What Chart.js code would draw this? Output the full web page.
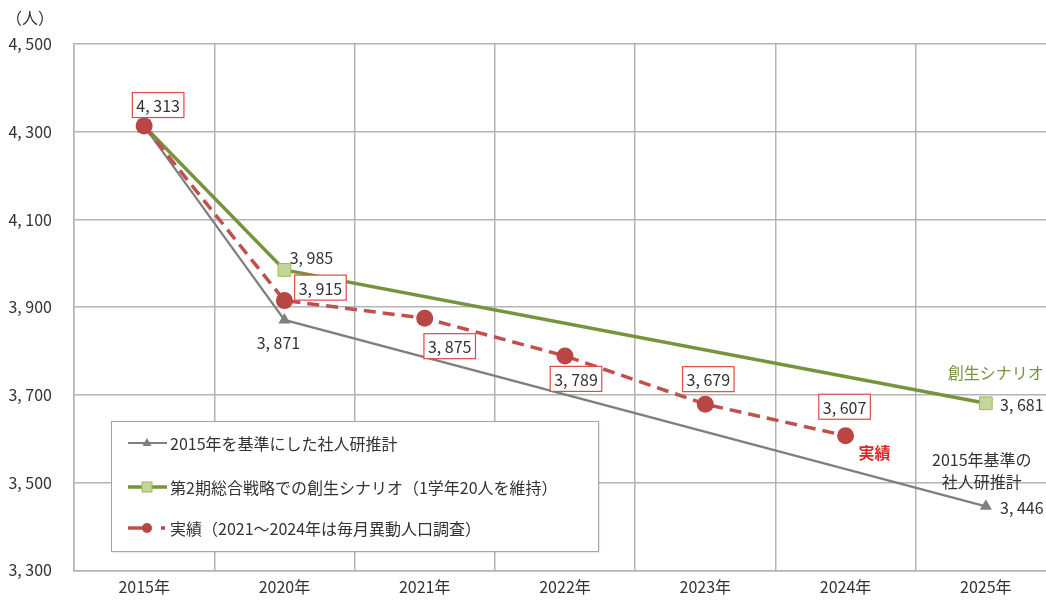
<!DOCTYPE html>
<html lang="ja">
<head>
<meta charset="UTF-8">
<title>児童数の推移</title>
<style>
    body {
        margin: 0;
        background: #fff;
        overflow: hidden;
    }
    .wrap {
        width: 1066px;
        height: 602px;
    }
    #popChart {
        width: 1066px;
        height: 602px;
    }
</style>
<script src="https://cdn.jsdelivr.net/npm/chart.js"></script>
</head>
<body>
<div class="wrap">
    <canvas id="popChart" width="1066" height="602"></canvas>
</div>
<script>
    // 年次
    const years = ['2015年', '2020年', '2021年', '2022年', '2023年', '2024年', '2025年'];
    // 2015年を基準にした社人研推計
    const ipssValues = [4313, 3871, null, null, null, null, 3446];
    // 第2期総合戦略での創生シナリオ
    const scenarioValues = [4313, 3985, null, null, null, null, 3681];
    // 実績
    const actualValues = [4313, 3915, 3875, 3789, 3679, 3607, null];
    // 縦軸
    const yMin = 3300;
    const yMax = 4500;
    const yStep = 200;

    const legendLabels = [
        '2015年を基準にした社人研推計',
        '第2期総合戦略での創生シナリオ（1学年20人を維持）',
        '実績（2021～2024年は毎月異動人口調査）'
    ];

    const FONT = '"Noto Sans CJK JP", "Noto Sans", sans-serif';
    const TEXT = '#333333';
    const GRAY = '#7f7f7f';
    const GREEN = '#77933c';
    const GREEN_FILL = '#c3d69b';
    const RED = '#c0504d';
    const RED_DOT = '#b94643';
    const BOX_RED = '#e04a4a';
    const GRID = '#b4b4b4';

    // 4,313 -> "4, 313"
    function fmt(v) {
        return v.toLocaleString('en-US').replace(',', ', ');
    }

    // ラベル位置（点からのずれ）
    const labelPlace = {
        0: [[14, -21], [36, -13], [25, 28], [11, 23], [3, -25], [-1, -29]],
        1: [null, [27, -13], null, null, null, null, [36, 1]],
        2: [null, [-6, 22], null, null, null, null, [36, 1]]
    };
    const boxed = { 0: true, 1: false, 2: false };

    const labelPlugin = {
        id: 'valueLabels',
        afterDatasetsDraw(chart) {
            const ctx = chart.ctx;
            ctx.save();
            ctx.font = '16px ' + FONT;
            ctx.textAlign = 'center';
            ctx.textBaseline = 'middle';
            chart.data.datasets.forEach((ds, di) => {
                const meta = chart.getDatasetMeta(di);
                ds.data.forEach((v, i) => {
                    const off = labelPlace[di][i];
                    if (v === null || !off) return;
                    const pt = meta.data[i];
                    const cx = pt.x + off[0];
                    const cy = pt.y + off[1];
                    const txt = fmt(v);
                    if (boxed[di]) {
                        const w = ctx.measureText(txt).width + 8;
                        const h = 25;
                        ctx.fillStyle = '#fff';
                        ctx.fillRect(cx - w / 2, cy - h / 2, w, h);
                        ctx.strokeStyle = BOX_RED;
                        ctx.lineWidth = 1.2;
                        ctx.strokeRect(cx - w / 2, cy - h / 2, w, h);
                    }
                    ctx.fillStyle = TEXT;
                    ctx.fillText(txt, cx, cy + 1);
                });
            });

            // 系列名の注記
            const last = chart.getDatasetMeta(1).data[6];
            const lastIpss = chart.getDatasetMeta(2).data[6];
            const lastActual = chart.getDatasetMeta(0).data[5];
            ctx.textAlign = 'left';
            ctx.fillStyle = GREEN;
            ctx.fillText('創生シナリオ', last.x - 38, last.y - 30);
            ctx.fillStyle = '#e02424';
            ctx.font = 'bold 16px ' + FONT;
            ctx.fillText('実績', lastActual.x + 13, lastActual.y + 17);
            ctx.font = '16px ' + FONT;
            ctx.fillStyle = TEXT;
            ctx.textAlign = 'center';
            ctx.fillText('2015年基準の', lastIpss.x - 4, lastIpss.y - 46);
            ctx.fillText('社人研推計', lastIpss.x - 4, lastIpss.y - 24);

            // 単位
            ctx.fillText('（人）', 30, 18);
            ctx.restore();
        }
    };

    const legendPlugin = {
        id: 'boxLegend',
        afterDraw(chart) {
            const ctx = chart.ctx;
            const x0 = 111, y0 = 421, w = 487, h = 130;
            ctx.save();
            ctx.shadowColor = 'rgba(0,0,0,0.25)';
            ctx.shadowOffsetX = 1;
            ctx.shadowOffsetY = 1;
            ctx.shadowBlur = 2;
            ctx.fillStyle = '#fff';
            ctx.fillRect(x0, y0, w, h);
            ctx.shadowColor = 'transparent';
            ctx.strokeStyle = '#a6a6a6';
            ctx.lineWidth = 1;
            ctx.strokeRect(x0 + 0.5, y0 + 0.5, w, h);

            const rows = [y0 + 22, y0 + 66, y0 + 107];
            const sx = 128, ex = 167, mx = 147;

            // 社人研推計
            ctx.strokeStyle = GRAY;
            ctx.lineWidth = 2;
            ctx.beginPath();
            ctx.moveTo(sx, rows[0]);
            ctx.lineTo(ex, rows[0]);
            ctx.stroke();
            ctx.fillStyle = GRAY;
            ctx.beginPath();
            ctx.moveTo(mx, rows[0] - 5);
            ctx.lineTo(mx + 4.5, rows[0] + 3);
            ctx.lineTo(mx - 4.5, rows[0] + 3);
            ctx.closePath();
            ctx.fill();

            // 創生シナリオ
            ctx.strokeStyle = GREEN;
            ctx.lineWidth = 3.5;
            ctx.beginPath();
            ctx.moveTo(sx, rows[1]);
            ctx.lineTo(ex, rows[1]);
            ctx.stroke();
            ctx.fillStyle = GREEN_FILL;
            ctx.fillRect(mx - 5, rows[1] - 5, 10, 10);
            ctx.strokeStyle = '#9bbb59';
            ctx.lineWidth = 1;
            ctx.strokeRect(mx - 5, rows[1] - 5, 10, 10);

            // 実績
            ctx.strokeStyle = RED;
            ctx.lineWidth = 3.5;
            ctx.beginPath();
            ctx.moveTo(sx, rows[2]);
            ctx.lineTo(mx, rows[2]);
            ctx.stroke();
            ctx.fillStyle = RED_DOT;
            ctx.beginPath();
            ctx.arc(mx, rows[2], 5, 0, Math.PI * 2);
            ctx.fill();
            ctx.fillRect(161, rows[2] - 1.75, 4, 3.5);

            ctx.fillStyle = TEXT;
            ctx.font = '16px ' + FONT;
            ctx.textAlign = 'left';
            ctx.textBaseline = 'middle';
            legendLabels.forEach((t, i) => ctx.fillText(t, 170, rows[i] + 1));
            ctx.restore();
        }
    };

    new Chart(document.getElementById('popChart'), {
        type: 'line',
        data: {
            labels: years,
            datasets: [
                {
                    label: legendLabels[2],
                    data: actualValues,
                    borderColor: RED,
                    borderWidth: 3.5,
                    borderDash: [12, 7],
                    pointStyle: 'circle',
                    pointRadius: 8.5,
                    pointBackgroundColor: RED_DOT,
                    pointBorderColor: RED_DOT,
                    pointBorderWidth: 0,
                    tension: 0
                },
                {
                    label: legendLabels[1],
                    data: scenarioValues,
                    spanGaps: true,
                    borderColor: GREEN,
                    borderWidth: 3.5,
                    pointStyle: 'rect',
                    pointRadius: 9,
                    pointBackgroundColor: GREEN_FILL,
                    pointBorderColor: '#9bbb59',
                    pointBorderWidth: 1,
                    tension: 0
                },
                {
                    label: legendLabels[0],
                    data: ipssValues,
                    spanGaps: true,
                    borderColor: GRAY,
                    borderWidth: 2.2,
                    pointStyle: 'triangle',
                    pointRadius: 7,
                    pointBackgroundColor: GRAY,
                    pointBorderColor: GRAY,
                    pointBorderWidth: 0,
                    tension: 0
                }
            ]
        },
        options: {
            responsive: false,
            animation: false,
            layout: { padding: { top: 44, left: 0, right: 0, bottom: 0 } },
            plugins: {
                legend: { display: false },
                tooltip: { enabled: false }
            },
            scales: {
                x: {
                    offset: true,
                    grid: { offset: true, color: GRID, lineWidth: 1.5, drawTicks: false },
                    border: { color: GRID, width: 1.5 },
                    ticks: { color: TEXT, font: { family: FONT, size: 16 }, padding: 7, maxRotation: 0 },
                    afterFit(scale) { scale.height = 29; }
                },
                y: {
                    min: yMin,
                    max: yMax,
                    grid: { color: GRID, lineWidth: 1.5, drawTicks: false },
                    border: { color: GRID, width: 1.5 },
                    ticks: {
                        stepSize: yStep,
                        color: TEXT,
                        font: { family: FONT, size: 16 },
                        padding: 22,
                        callback: v => fmt(v)
                    },
                    afterFit(scale) { scale.width = 74; }
                }
            }
        },
        plugins: [labelPlugin, legendPlugin]
    });
</script>
</body>
</html>
